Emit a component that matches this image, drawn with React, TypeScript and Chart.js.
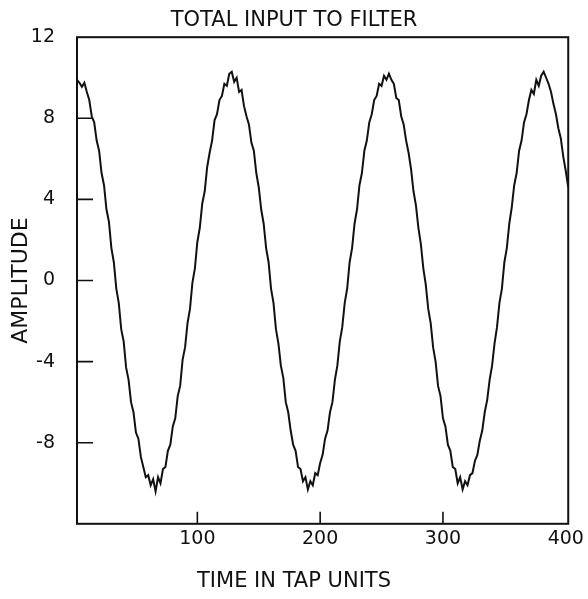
import React, { useEffect, useRef } from "react";
import { Chart, registerables } from "chart.js";

Chart.register(...registerables);

// Sample spacing along the tap axis
const TAP_START = 2;
const TAP_STEP = 2;

// Amplitude readings, one per sample, split by cycle
const CYCLE_1 = [
  9.9, 9.75, 9.55, 9.75, 9.3, 8.9, 8.1, 7.8, 6.9, 6.4,
  5.3, 4.7, 3.5, 2.9, 1.6, 0.9, -0.4, -1.1, -2.4, -3.0,
  -4.3, -4.9, -6.0, -6.5, -7.5, -7.8, -8.7, -9.2, -9.7, -9.6,
  -10.1, -9.8, -10.4, -9.7, -10.0, -9.3, -9.2, -8.4, -8.1, -7.2,
  -6.8, -5.7, -5.2, -3.9, -3.3, -2.1, -1.4, -0.1, 0.6, 1.9,
  2.6, 3.8, 4.4, 5.6, 6.3, 6.9, 7.9, 8.2, 8.9, 9.1,
  9.7, 9.6, 10.2,
];
const CYCLE_2 = [
  10.3, 9.8, 10.0, 9.3, 9.4, 8.6, 8.1, 7.7, 6.8, 6.4,
  5.3, 4.6, 3.5, 2.8, 1.6, 0.9, -0.4, -1.1, -2.4, -3.1,
  -4.2, -4.8, -6.0, -6.5, -7.4, -8.1, -8.4, -9.2, -9.3, -9.9,
  -9.7, -10.3, -9.9, -10.1, -9.5, -9.6, -9.0, -8.6, -7.8, -7.4,
  -6.5, -6.0, -4.9, -4.2, -3.0, -2.3, -1.1, -0.4, 0.9, 1.6,
  2.8, 3.5, 4.7, 5.3, 6.4, 6.9, 7.8, 8.2, 8.9, 9.1,
  9.7, 9.6, 10.1,
];
const CYCLE_3 = [
  9.9, 10.2, 9.9, 9.7, 9.0, 8.9, 8.1, 7.7, 6.9, 6.3,
  5.5, 4.4, 3.7, 2.6, 1.8, 0.6, -0.2, -1.4, -2.1, -3.3,
  -4.0, -5.2, -5.7, -6.8, -7.2, -8.1, -8.4, -9.2, -9.3, -10.0,
  -9.7, -10.3, -9.9, -10.1, -9.6, -9.5, -8.9, -8.6, -7.9, -7.4,
  -6.5, -5.9, -4.9, -4.2, -3.1, -2.3, -1.1, -0.4, 0.9, 1.6,
  2.8, 3.6, 4.7, 5.3, 6.4, 6.9, 7.8, 8.2, 8.9, 9.4,
  9.2, 9.9, 9.6,
];
const TAIL = [10.1, 10.3, 10.0, 9.7, 9.3, 8.7, 8.2, 7.5, 7.0, 6.1, 5.4, 4.6];

const X_TICKS = [100, 200, 300, 400];
const Y_TICKS = [-8, -4, 0, 4, 8, 12];
const X_MIN = 2;
const X_MAX = 402;
const Y_MIN = -12;
const Y_MAX = 12;

const TITLE = "TOTAL INPUT TO FILTER";
const X_TITLE = "TIME IN TAP UNITS";
const Y_TITLE = "AMPLITUDE";

const FONT = "'DejaVu Sans', sans-serif";
const INK = "#111111";

const framePlugin = {
  id: "frame",
  afterDatasetsDraw(chart: any) {
    const { ctx, chartArea: a, scales } = chart;
    ctx.save();
    ctx.strokeStyle = INK;
    ctx.lineWidth = 2;
    ctx.strokeRect(a.left, a.top, a.right - a.left, a.bottom - a.top);
    ctx.lineWidth = 1.6;
    ctx.beginPath();
    for (const v of Y_TICKS) {
      const y = scales.y.getPixelForValue(v);
      if (y > a.top + 1 && y < a.bottom - 1) {
        ctx.moveTo(a.left, y);
        ctx.lineTo(a.left + 16, y);
      }
    }
    for (const v of X_TICKS) {
      const x = scales.x.getPixelForValue(v);
      if (x > a.left + 1 && x < a.right - 3) {
        ctx.moveTo(x, a.bottom);
        ctx.lineTo(x, a.bottom - 12);
      }
    }
    ctx.stroke();
    ctx.restore();
  },
};

export default function App() {
  const ref = useRef<HTMLCanvasElement | null>(null);

  useEffect(() => {
    if (!ref.current) return;
    const values = [...CYCLE_1, ...CYCLE_2, ...CYCLE_3, ...TAIL];
    const points = values.map((y, i) => ({ x: TAP_START + i * TAP_STEP, y }));

    const chart = new Chart(ref.current, {
      type: "line",
      data: {
        datasets: [
          {
            data: points,
            borderColor: INK,
            borderWidth: 2,
            pointRadius: 0,
            tension: 0,
            fill: false,
          },
        ],
      },
      plugins: [framePlugin],
      options: {
        animation: false,
        responsive: false,
        events: [],
        layout: { padding: 0 },
        plugins: {
          legend: { display: false },
          tooltip: { enabled: false },
          title: {
            display: true,
            text: TITLE,
            color: INK,
            font: { family: FONT, size: 21, weight: "normal" },
            padding: { top: 8, bottom: 4 },
          },
          subtitle: {
            display: true,
            position: "bottom",
            text: X_TITLE,
            color: INK,
            font: { family: FONT, size: 21, weight: "normal" },
            padding: { top: 0, bottom: 5 },
          },
        },
        scales: {
          x: {
            type: "linear",
            min: X_MIN,
            max: X_MAX,
            afterBuildTicks: (s: any) => {
              s.ticks = X_TICKS.map((v) => ({ value: v }));
            },
            afterFit: (s: any) => {
              s.height = 45;
            },
            grid: { display: false, drawTicks: false },
            border: { display: false },
            ticks: {
              autoSkip: false,
              maxRotation: 0,
              padding: 4,
              color: INK,
              font: { family: FONT, size: 19 },
            },
          },
          y: {
            type: "linear",
            min: Y_MIN,
            max: Y_MAX,
            afterBuildTicks: (s: any) => {
              s.ticks = Y_TICKS.map((v) => ({ value: v }));
            },
            afterFit: (s: any) => {
              s.width = 77;
            },
            grid: { display: false, drawTicks: false },
            border: { display: false },
            title: {
              display: true,
              text: Y_TITLE,
              color: INK,
              font: { family: FONT, size: 22, weight: "normal" },
              padding: { top: 8, bottom: 0 },
            },
            ticks: {
              autoSkip: false,
              padding: 22,
              color: INK,
              font: { family: FONT, size: 19 },
            },
          },
          yRight: {
            type: "linear",
            position: "right",
            display: true,
            grid: { display: false, drawTicks: false },
            border: { display: false },
            ticks: { display: false },
            afterFit: (s: any) => {
              s.width = 19;
            },
          },
        },
      },
    });
    return () => chart.destroy();
  }, []);

  return (
    <div style={{ position: "absolute", left: 0, top: 0, width: 588, height: 599, background: "#fff" }}>
      <canvas ref={ref} width={588} height={599} style={{ display: "block" }} />
    </div>
  );
}
